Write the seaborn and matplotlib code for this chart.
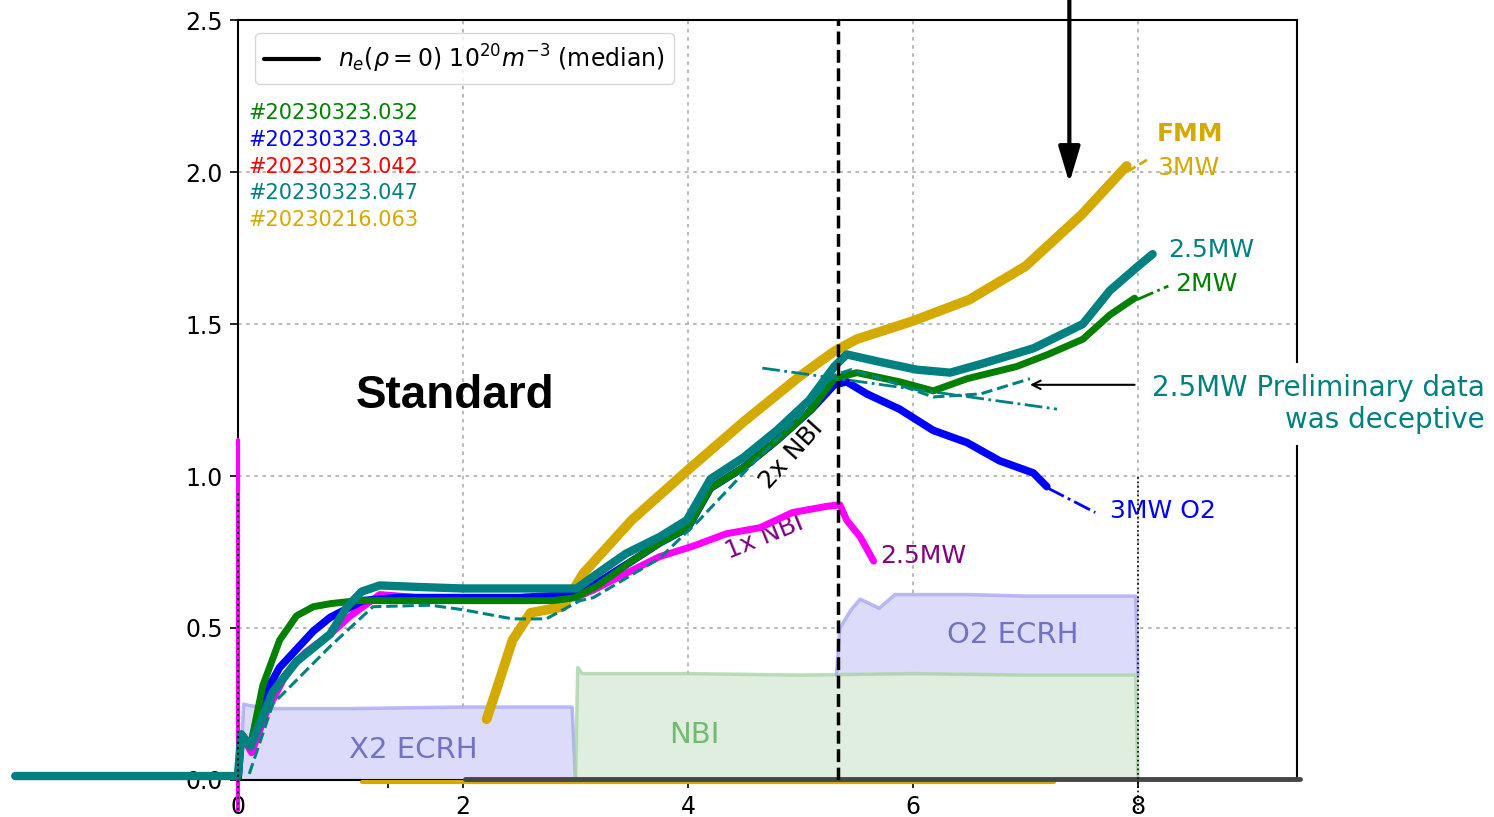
import matplotlib.pyplot as plt
from matplotlib.lines import Line2D
import seaborn as sns

sns.set_style("ticks", {"text.color": "k", "axes.labelcolor": "k",
                        "xtick.color": "k", "ytick.color": "k", "axes.edgecolor": "k"})
plt.rcParams['font.family'] = ['DejaVu Sans']

# shot labels
shot_ids = ["#20230323.032", "#20230323.034", "#20230323.042", "#20230323.047", "#20230216.063"]
shot_colors = ["#008000", "#0000ff", "#ff0000", "#008080", "#d4aa00"]

# central density n_e(rho=0), 1e20 m^-3
green_t = [0.0, 0.03, 0.11, 0.22, 0.37, 0.52, 0.67, 0.82, 1.06, 1.3, 1.6, 2.0, 2.4, 2.8, 3.0, 3.2, 3.5,
           3.75, 4.0, 4.2, 4.5, 4.8, 5.1, 5.3, 5.5, 5.88, 6.18, 6.48, 6.92, 7.2, 7.51, 7.75, 7.97]
green_n = [0.0, 0.15, 0.11, 0.31, 0.46, 0.54, 0.57, 0.58, 0.59, 0.59, 0.59, 0.59, 0.59, 0.59, 0.60, 0.64, 0.72,
           0.78, 0.83, 0.96, 1.03, 1.12, 1.22, 1.32, 1.34, 1.31, 1.28, 1.32, 1.36, 1.40, 1.45, 1.53, 1.585]

blue_t = [0.0, 0.03, 0.11, 0.22, 0.37, 0.52, 0.67, 0.82, 1.11, 1.4, 2.0, 2.5, 3.0, 3.2, 3.5, 3.75, 4.0,
          4.2, 4.5, 4.8, 5.1, 5.3, 5.41, 5.59, 5.88, 6.18, 6.48, 6.77, 7.07, 7.19]
blue_n = [0.0, 0.15, 0.11, 0.27, 0.37, 0.43, 0.49, 0.535, 0.59, 0.60, 0.60, 0.60, 0.61, 0.65, 0.72, 0.78, 0.83,
          0.96, 1.03, 1.12, 1.22, 1.30, 1.31, 1.27, 1.22, 1.15, 1.11, 1.05, 1.01, 0.965]

mag_t = [0.03, 0.12, 0.25, 0.43, 0.6, 0.82, 1.0, 1.26, 1.6, 2.0, 2.5, 3.0, 3.16, 3.45, 3.75, 4.05,
         4.34, 4.64, 4.93, 5.23, 5.35, 5.41, 5.53, 5.65]
mag_n = [0.15, 0.09, 0.22, 0.35, 0.42, 0.48, 0.54, 0.61, 0.60, 0.60, 0.60, 0.60, 0.625, 0.68, 0.735, 0.77,
         0.81, 0.83, 0.88, 0.90, 0.905, 0.855, 0.80, 0.72]
mag_spike_t = [0.0, 0.0]
mag_spike_n = [-0.1, 1.12]

teal_t = [-1.98, -0.02, 0.0, 0.03, 0.11, 0.31, 0.52, 0.82, 0.97, 1.1, 1.26, 1.6, 2.0, 2.4, 2.8, 3.01, 3.16,
          3.45, 3.75, 3.99, 4.2, 4.49, 4.79, 5.08, 5.3, 5.41, 5.71, 6.03, 6.33, 6.62, 7.07, 7.51, 7.75, 8.0, 8.13]
teal_n = [0.013, 0.013, 0.02, 0.15, 0.11, 0.29, 0.39, 0.48, 0.57, 0.62, 0.64, 0.635, 0.63, 0.63, 0.63, 0.63, 0.67,
          0.745, 0.80, 0.855, 0.99, 1.06, 1.15, 1.25, 1.36, 1.40, 1.375, 1.35, 1.34, 1.37, 1.42, 1.50, 1.61, 1.69, 1.73]

gold_t = [2.21, 2.3, 2.44, 2.6, 2.89, 3.07, 3.5, 4.0, 4.5, 5.0, 5.3, 5.5, 6.0, 6.5, 7.0, 7.5, 7.9]
gold_n = [0.2, 0.30, 0.46, 0.55, 0.57, 0.68, 0.855, 1.02, 1.18, 1.33, 1.41, 1.45, 1.51, 1.58, 1.69, 1.86, 2.02]

# zero-level traces along the time axis
gold_zero_t = [1.1, 7.25]
gold_zero_n = [-0.006, -0.006]
gray_zero_t = [2.02, 9.44]
gray_zero_n = [0.002, 0.002]

# preliminary 2.5MW data and extrapolations
prelim_t = [0.1, 0.31, 0.82, 1.2, 1.71, 2.0, 2.44, 2.74, 3.04, 3.16, 3.75, 4.1, 4.52, 5.0, 5.29, 5.45,
            5.8, 6.18, 6.6, 7.04]
prelim_n = [0.02, 0.25, 0.44, 0.57, 0.575, 0.56, 0.53, 0.53, 0.59, 0.60, 0.73, 0.855, 1.02, 1.2, 1.33, 1.35,
            1.31, 1.26, 1.27, 1.32]
trend_t = [4.66, 7.28]
trend_n = [1.355, 1.22]
blue_ext_t = [7.2, 7.62]
blue_ext_n = [0.96, 0.88]
green_ext_t = [7.99, 8.27]
green_ext_n = [1.58, 1.625]
gold_ext_t = [7.9, 8.08]
gold_ext_n = [2.0, 2.04]

# heating power traces (shaded)
x2_t = [0.02, 0.05, 0.1, 0.3, 1.0, 2.0, 2.97, 3.0]
x2_p = [0.0, 0.25, 0.245, 0.235, 0.235, 0.24, 0.24, 0.0]
nbi_t = [3.0, 3.02, 3.06, 4.0, 5.0, 6.0, 7.0, 7.98, 8.0]
nbi_p = [0.0, 0.37, 0.35, 0.35, 0.345, 0.35, 0.345, 0.345, 0.0]
o2_t = [5.32, 5.35, 5.45, 5.53, 5.7, 5.84, 6.5, 7.0, 7.5, 7.98, 8.0]
o2_p = [0.345, 0.5, 0.56, 0.595, 0.565, 0.61, 0.61, 0.605, 0.605, 0.605, 0.345]
o2_base = 0.345

nbi_start = 5.33

fig = plt.figure(figsize=(14.94, 8.17), dpi=100)
ax = fig.add_axes([0.1593, 0.0453, 0.7088, 0.9302])

# shaded power
ax.fill_between(x2_t, 0, x2_p, color="#dcdcfa", lw=0, zorder=1)
ax.plot(x2_t, x2_p, color="#a8a8f2", lw=2.5, alpha=0.8, zorder=1.1)
ax.fill_between(nbi_t, 0, nbi_p, color="#e0eee0", lw=0, zorder=1)
ax.plot(nbi_t, nbi_p, color="#a8d4a8", lw=2.5, alpha=0.8, zorder=1.1)
ax.fill_between(o2_t, o2_base, o2_p, color="#dcdcfa", lw=0, zorder=1)
ax.plot(o2_t, o2_p, color="#a8a8f2", lw=2.5, alpha=0.8, zorder=1.1)

ax.text(1.56, 0.099, "X2 ECRH", color="#7272c4", fontsize=21, ha="center", va="center", zorder=1.2)
ax.text(4.06, 0.148, "NBI", color="#70bb70", fontsize=21, ha="center", va="center", zorder=1.2)
ax.text(6.89, 0.477, "O2 ECRH", color="#7272c4", fontsize=21, ha="center", va="center", zorder=1.2)

# zero-level traces
kw = dict(ax=ax, sort=False, estimator=None, legend=False)
sns.lineplot(x=gold_zero_t, y=gold_zero_n, color="#d4aa00", lw=3, clip_on=False, zorder=2.6, **kw)
sns.lineplot(x=gray_zero_t, y=gray_zero_n, color="#464646", lw=3.5, clip_on=False, zorder=2.7, **kw)

# density traces
sns.lineplot(x=gold_t, y=gold_n, color="#d4aa00", lw=7, zorder=3, **kw)
sns.lineplot(x=mag_spike_t, y=mag_spike_n, color="#ff00ff", lw=3, clip_on=False, zorder=3, **kw)
sns.lineplot(x=mag_t, y=mag_n, color="#ff00ff", lw=5, zorder=3.1, **kw)
sns.lineplot(x=blue_t, y=blue_n, color="#0000ff", lw=5.5, zorder=3.2, **kw)
sns.lineplot(x=green_t, y=green_n, color="#008000", lw=5, zorder=3.3, **kw)
sns.lineplot(x=teal_t, y=teal_n, color="#008080", lw=6, clip_on=False, zorder=3.4, **kw)

sns.lineplot(x=prelim_t, y=prelim_n, color="#008080", lw=2.2, linestyle="--", zorder=3.5, **kw)
sns.lineplot(x=trend_t, y=trend_n, color="#008080", lw=2, linestyle="-.", zorder=3.5, **kw)
sns.lineplot(x=blue_ext_t, y=blue_ext_n, color="#0000ff", lw=2, linestyle="-.", zorder=3.5, **kw)
sns.lineplot(x=green_ext_t, y=green_ext_n, color="#008000", lw=2, linestyle="-.", zorder=3.5, **kw)
sns.lineplot(x=gold_ext_t, y=gold_ext_n, color="#d4aa00", lw=2, linestyle="--", zorder=3.5, **kw)

# time markers
ax.axvline(nbi_start, color="k", lw=2.5, linestyle="--", zorder=4)
ax.plot([0, 0], [-0.1, 0.95], color="k", lw=1.5, linestyle=":", clip_on=False, zorder=4)
ax.plot([8, 8], [-0.1, 1.0], color="k", lw=1.2, linestyle=":", clip_on=False, zorder=4)

# labels next to the traces
ax.text(8.17, 2.125, "FMM", color="#d4aa00", fontsize=18, fontweight="bold", va="center")
ax.text(8.17, 2.013, "3MW", color="#d4aa00", fontsize=18, va="center")
ax.text(8.27, 1.743, "2.5MW", color="#008080", fontsize=18, va="center")
ax.text(8.33, 1.632, "2MW", color="#008000", fontsize=18, va="center")
ax.text(7.75, 0.885, "3MW O2", color="#0000ff", fontsize=18, va="center")
ax.text(5.71, 0.737, "2.5MW", color="#800080", fontsize=18, va="center")
ax.text(4.68, 0.80, "1x NBI", color="#800080", fontsize=18, ha="center", va="center", rotation=22)
ax.text(4.92, 1.07, "2x NBI", color="k", fontsize=18, ha="center", va="center", rotation=48)
ax.text(1.93, 1.263, "Standard", color="k", fontsize=33, fontweight="bold", family=["Liberation Sans"],
        ha="center", va="center")

for i, (sid, col) in enumerate(zip(shot_ids, shot_colors)):
    ax.text(0.0094, 0.8776 - i * 0.0352, sid, color=col, fontsize=15, va="center",
            transform=ax.transAxes)

# annotations
ax.annotate("", xy=(7.39, 1.964), xytext=(7.39, 2.62), annotation_clip=False,
            arrowprops=dict(arrowstyle="-|>,head_length=1.1,head_width=0.33", color="k", lw=3,
                            mutation_scale=20, shrinkA=0, shrinkB=0))
ax.annotate("", xy=(7.04, 1.30), xytext=(7.97, 1.30), annotation_clip=False,
            arrowprops=dict(arrowstyle="->", color="k", lw=1.5, mutation_scale=15, shrinkA=0, shrinkB=0))
ax.text(11.08, 1.237, "2.5MW Preliminary data\nwas deceptive", color="#008080", fontsize=20,
        ha="right", va="center", multialignment="right", clip_on=False, zorder=5,
        bbox=dict(facecolor="white", edgecolor="none", pad=8))

# legend
handle = Line2D([], [], color="k", lw=3)
leg = ax.legend([handle], [r"$n_e(\rho=0)\ 10^{20}m^{-3}$ (median)"], loc="upper left",
                bbox_to_anchor=(0.016, 0.983), borderaxespad=0, fontsize=17, handlelength=2.3,
                frameon=True, fancybox=True, edgecolor="#cccccc")

# axes
ax.set_xlim(0, 9.413)
ax.set_ylim(0, 2.5)
ax.set_xticks([0, 2, 4, 6, 8])
ax.set_xticks([1.33], minor=True)
ax.set_yticks([0.0, 0.5, 1.0, 1.5, 2.0, 2.5])
ax.set_yticklabels(["0.0", "0.5", "1.0", "1.5", "2.0", "2.5"])
ax.tick_params(axis="both", which="both", labelsize=17, length=6, width=1.2, pad=5,
               direction="out", colors="k")
ax.grid(True, which="major", color="#b4b4b4", linestyle=(0, (2, 2.5)), lw=1.3)
ax.set_axisbelow(True)
for s in ax.spines.values():
    s.set_visible(True)
    s.set_color("k")
    s.set_linewidth(1.5)
ax.set_xlabel("")
ax.set_ylabel("")

fig.savefig("out.png", dpi=100)
